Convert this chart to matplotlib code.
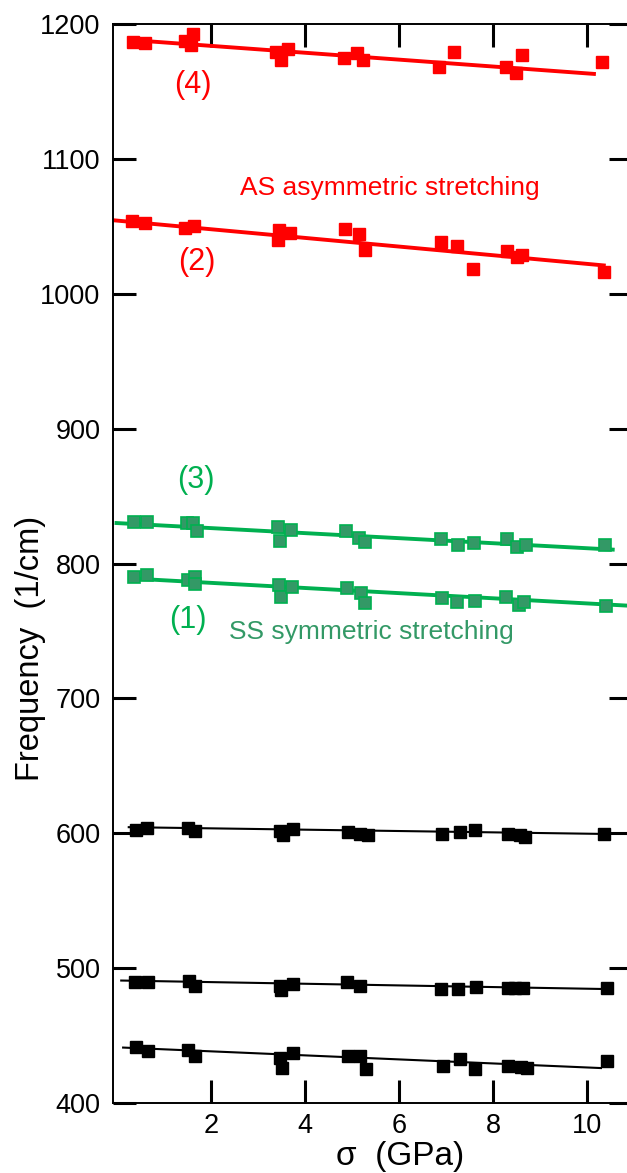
import numpy as np
import matplotlib
matplotlib.use("Agg")
import matplotlib.pyplot as plt

plt.rcParams['font.family'] = ['Liberation Sans', 'DejaVu Sans']

RED = '#ff0000'
GREEN = '#00b050'
GREEN_DARK = '#339966'

# red (4): asymmetric stretching, upper band
x_r4 = [0.34, 0.60, 1.44, 1.58, 1.62, 3.39, 3.50, 3.64, 4.83, 5.11, 5.23, 6.85, 7.17, 8.27, 8.50, 8.62, 10.33]
y_r4 = [1186.9, 1185.7, 1187.6, 1184.4, 1192.6, 1179.5, 1173.3, 1181.2, 1174.6, 1178.3, 1173.3, 1168.4, 1179.0, 1168.4, 1163.4, 1177.0, 1172.1]
fit_r4_x = [0.35, 10.15]
fit_r4_y = [1188.0, 1163.0]

# red (2)
x_r2 = [0.31, 0.60, 1.45, 1.63, 3.43, 3.45, 3.68, 4.85, 5.15, 5.28, 6.89, 7.23, 7.57, 8.29, 8.52, 8.62, 10.36]
y_r2 = [1054.2, 1052.7, 1048.5, 1050.3, 1039.6, 1047.3, 1045.3, 1047.8, 1044.1, 1032.5, 1038.2, 1035.7, 1018.2, 1031.9, 1027.1, 1028.8, 1016.4]
fit_r2_x = [-0.08, 10.36]
fit_r2_y = [1054.5, 1021.0]

# green (3)
x_g3 = [0.355, 0.645, 1.49, 1.62, 1.70, 3.43, 3.46, 3.70, 4.87, 5.16, 5.27, 6.89, 7.26, 7.60, 8.30, 8.51, 8.70, 10.38]
y_g3 = [831.1, 831.1, 829.9, 829.9, 824.2, 827.4, 816.7, 824.9, 824.2, 819.2, 815.8, 818.0, 813.8, 815.5, 818.2, 812.1, 813.8, 813.8]
fit_g3_x = [-0.01, 10.55]
fit_g3_y = [830.0, 810.3]

# green (1)
x_g1 = [0.36, 0.645, 1.51, 1.65, 1.67, 3.45, 3.50, 3.72, 4.90, 5.19, 5.28, 6.92, 7.24, 7.61, 8.28, 8.55, 8.66, 10.41]
y_g1 = [790.3, 791.6, 787.8, 789.8, 784.9, 784.1, 775.0, 782.4, 781.6, 778.4, 770.6, 774.3, 771.3, 772.5, 775.0, 769.3, 771.8, 768.6]
fit_g1_x = [0.45, 10.95]
fit_g1_y = [788.6, 768.6]

# black, ~600
x_k600 = [0.40, 0.645, 1.51, 1.65, 3.46, 3.53, 3.74, 4.91, 5.18, 5.34, 6.92, 7.29, 7.61, 8.32, 8.58, 8.69, 10.36]
y_k600 = [602.5, 604.2, 603.8, 601.3, 601.3, 598.8, 603.0, 600.8, 599.3, 598.8, 599.3, 600.8, 602.5, 599.3, 598.8, 597.5, 599.5]
fit_k600_x = [0.25, 10.35]
fit_k600_y = [604.5, 599.5]

# black, ~490
x_k490 = [0.38, 0.66, 1.53, 1.67, 3.46, 3.50, 3.74, 4.90, 5.18, 6.90, 7.26, 7.63, 8.33, 8.47, 8.64, 10.43]
y_k490 = [489.6, 489.6, 490.6, 486.4, 486.4, 483.9, 488.4, 489.6, 486.9, 484.6, 484.6, 485.9, 485.2, 485.2, 485.2, 485.6]
fit_k490_x = [0.09, 10.55]
fit_k490_y = [490.8, 484.4]

# black, ~440
x_k440 = [0.40, 0.66, 1.51, 1.65, 3.46, 3.52, 3.74, 4.91, 5.18, 5.30, 6.94, 7.31, 7.62, 8.33, 8.60, 8.73, 10.43]
y_k440 = [441.4, 438.7, 439.4, 435.2, 433.3, 425.9, 437.0, 435.2, 434.5, 425.4, 427.6, 432.8, 425.4, 427.1, 426.4, 425.9, 430.8]
fit_k440_x = [0.13, 10.30]
fit_k440_y = [441.1, 425.9]

W, H = 627, 1173
fig = plt.figure(figsize=(W / 100, H / 100), dpi=100)
ax = fig.add_axes([113 / W, 70 / H, (632 - 113) / W, (1103 - 24) / H])

MS = 8.7
# red series
for xs, ys, fx, fy in [(x_r4, y_r4, fit_r4_x, fit_r4_y), (x_r2, y_r2, fit_r2_x, fit_r2_y)]:
    ax.plot(fx, fy, color=RED, lw=2.8, zorder=2)
    ax.plot(xs, ys, 's', ms=MS, color=RED, mec=RED, zorder=3)

# green series
for xs, ys, fx, fy in [(x_g3, y_g3, fit_g3_x, fit_g3_y), (x_g1, y_g1, fit_g1_x, fit_g1_y)]:
    ax.plot(fx, fy, color=GREEN, lw=2.8, zorder=2)
    ax.plot(xs, ys, 's', ms=MS, mfc=GREEN_DARK, mec=GREEN, mew=1.2, zorder=3)

# black series
for xs, ys, fx, fy in [(x_k600, y_k600, fit_k600_x, fit_k600_y),
                       (x_k490, y_k490, fit_k490_x, fit_k490_y),
                       (x_k440, y_k440, fit_k440_x, fit_k440_y)]:
    ax.plot(fx, fy, color='black', lw=1.5, zorder=2)
    ax.plot(xs, ys, 's', ms=MS, color='black', zorder=3)

# labels on the curves
ax.text(1.62, 1155, '(4)', color=RED, fontsize=22, ha='center', va='center')
ax.text(1.70, 1023.6, '(2)', color=RED, fontsize=22, ha='center', va='center')
ax.text(2.62, 1078.4, 'AS asymmetric stretching', color=RED, fontsize=19, ha='left', va='center')
ax.text(1.68, 862, '(3)', color=GREEN, fontsize=22, ha='center', va='center')
ax.text(1.51, 758.2, '(1)', color=GREEN, fontsize=22, ha='center', va='center')
ax.text(2.38, 749.3, 'SS symmetric stretching', color=GREEN_DARK, fontsize=19, ha='left', va='center')

ax.set_xlim(-0.085, 10.96)
ax.set_ylim(400, 1200)
ax.set_xticks([2, 4, 6, 8, 10])
ax.set_yticks(np.arange(400, 1201, 100))

ax.tick_params(axis='both', direction='in', length=16.5, width=2.2,
               labelsize=19.5, top=True, right=True)
ax.tick_params(axis='x', pad=7)
ax.tick_params(axis='y', pad=9)
for s in ax.spines.values():
    s.set_linewidth(1.4)

ax.set_xlabel('\u03c3  (GPa)', fontsize=24, va='center')
ax.xaxis.set_label_coords(0.553, -0.05)
ax.set_ylabel('Frequency  (1/cm)', fontsize=23.5, va='center')
ax.yaxis.set_label_coords(-0.158, 0.4217)

fig.savefig('out.png', dpi=100)
